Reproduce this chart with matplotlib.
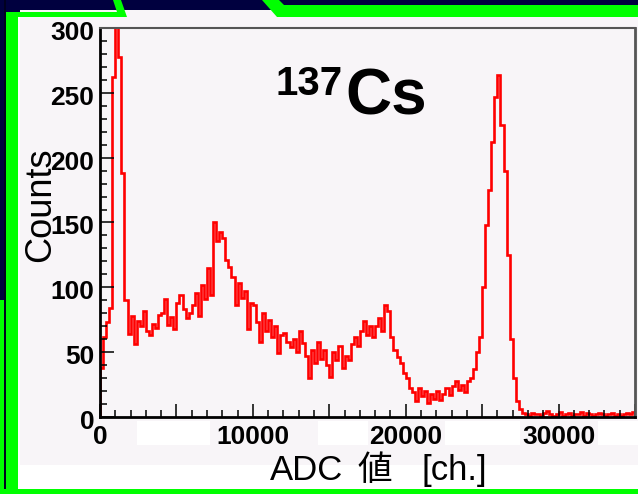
import numpy as np
import matplotlib
matplotlib.use('Agg')
import matplotlib.pyplot as plt
import matplotlib.transforms as mtransforms
from matplotlib.patches import Rectangle, Polygon
from matplotlib.ticker import MultipleLocator

plt.rcParams['font.family'] = ['Liberation Sans', 'Noto Sans CJK JP', 'DejaVu Sans']

# 137Cs spectrum, counts per 200-channel bin
bin_width = 200
counts = [
    38, 62, 73, 84, 262, 430, 278, 188, 90, 64,
    78, 56, 74, 70, 82, 66, 63, 72, 69, 79,
    80, 91, 71, 77, 68, 88, 94, 83, 76, 80,
    86, 96, 78, 102, 91, 115, 94, 150, 136, 143,
    138, 121, 116, 108, 86, 103, 92, 97, 68, 88,
    86, 73, 58, 80, 66, 75, 62, 70, 49, 63,
    65, 58, 54, 60, 50, 66, 57, 47, 30, 52,
    42, 58, 45, 52, 40, 31, 50, 44, 55, 38,
    47, 44, 56, 62, 55, 66, 74, 63, 70, 62,
    70, 76, 66, 86, 82, 62, 52, 46, 42, 34,
    30, 22, 19, 12, 22, 16, 20, 11, 18, 14,
    20, 13, 18, 22, 17, 24, 28, 21, 25, 19,
    28, 30, 37, 50, 62, 100, 148, 175, 212, 247,
    264, 225, 190, 125, 60, 30, 12, 6, 3, 2,
    1, 3, 2, 2, 1, 3, 5, 2, 1, 2,
    4, 1, 2, 3, 1, 2, 2, 4, 1, 3,
    2, 1, 2, 3, 2, 1, 2, 3, 1, 2,
    1, 2, 3, 2, 4,
]
edges = np.arange(len(counts) + 1) * bin_width

x_ticks = [0, 5000, 10000, 15000, 20000, 25000, 30000, 35000]
x_tick_labels = ['0', '', '10000', '', '20000', '', '30000', '']
y_ticks = [0, 50, 100, 150, 200, 250, 300]
title_mass = '137'
title_elem = 'Cs'
x_label_parts = ['ADC', '値', '[ch.]']
y_label = 'Counts'

W, H = 638, 494
navy = '#00003f'
green = '#00ff00'
pad_col = '#f8f5f8'

fig = plt.figure(figsize=(W / 100, H / 100), dpi=100)
fig.patch.set_facecolor('white')

# background in pixel coordinates (slide frame)
bg = fig.add_axes([0, 0, 1, 1], zorder=-1)
bg.set_xlim(0, W)
bg.set_ylim(H, 0)
bg.axis('off')


def box(x0, y0, x1, y1, c):
    bg.add_patch(Rectangle((x0, y0), x1 - x0, y1 - y0, facecolor=c, edgecolor='none'))


box(0, 0, W, 12, navy)
box(20, 10, W, 465, pad_col)
for x0, x1 in [(137, 210), (318, 368), (445, 520), (598, W)]:
    box(x0, 421, x1, 445, 'white')
box(6, 12, 17.5, H, green)
box(0, 0, 3.5, H, navy)
box(0, 300, 3.5, H, green)
box(3.5, 0, 6, H, '#000020')
box(0, 489, W, H, green)
bg.add_patch(Polygon([(6, 12), (117, 12), (113, 0), (121, 0), (127, 17), (6, 17)],
                     facecolor=green, edgecolor='none'))
bg.add_patch(Polygon([(262, 0), (279, 0), (284, 5), (W, 5), (W, 17), (277, 17)],
                     facecolor=green, edgecolor='none'))

# histogram
ax = fig.add_axes([100 / W, (H - 417) / H, 535 / W, 389 / H])
ax.set_facecolor(pad_col)
ax.stairs(counts, edges, color='red', linewidth=1.9, baseline=0)
ax.set_xlim(0, 35000)
ax.set_ylim(0, 300)

ax.set_xticks(x_ticks)
ax.set_xticklabels(x_tick_labels)
ax.set_yticks(y_ticks)
ax.xaxis.set_minor_locator(MultipleLocator(1000))
ax.yaxis.set_minor_locator(MultipleLocator(10))
ax.tick_params(axis='x', which='major', direction='in', length=9.7, width=1.1, pad=5.4,
               labelsize=19, top=False)
ax.tick_params(axis='x', which='minor', direction='in', length=5.4, width=1.1, top=False)
ax.tick_params(axis='y', which='major', direction='in', length=10, width=1.1, pad=4,
               labelsize=19, right=False)
ax.tick_params(axis='y', which='minor', direction='in', length=5, width=1.1, right=False)
for lab in ax.get_xticklabels() + ax.get_yticklabels():
    lab.set_fontweight('bold')
off = mtransforms.ScaledTranslation(0, -2.5 / 100, fig.dpi_scale_trans)
for lab in ax.get_yticklabels():
    lab.set_transform(lab.get_transform() + off)

for side in ['left', 'bottom']:
    ax.spines[side].set_color('black')
    ax.spines[side].set_linewidth(2)
ax.spines['top'].set_color('#555555')
ax.spines['top'].set_linewidth(1.5)
ax.spines['right'].set_color('#555555')
ax.spines['right'].set_linewidth(2)

# texts
fig.text(275, 95, title_mass, transform=bg.transData, fontsize=29, fontweight='bold',
         ha='left', va='baseline')
fig.text(345, 114, title_elem, transform=bg.transData, fontsize=46, fontweight='bold',
         ha='left', va='baseline')
fig.text(50, 205, y_label, transform=bg.transData, fontsize=26, rotation=90,
         rotation_mode='anchor', ha='center', va='baseline')
for part, xpos in zip(x_label_parts, [270, 357, 421]):
    fig.text(xpos, 480, part, transform=bg.transData, fontsize=25, ha='left', va='baseline')

fig.savefig('out.png', dpi=100)
